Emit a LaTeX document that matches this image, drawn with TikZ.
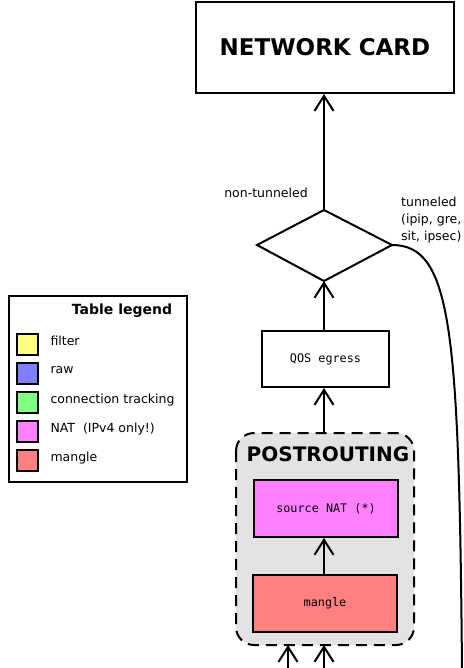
\documentclass[tikz,border=0pt]{standalone}
\usepackage{fontspec}
\setmainfont{DejaVu Sans}
\setsansfont{DejaVu Sans}
\setmonofont{DejaVu Sans Mono}
\usetikzlibrary{arrows.meta,shapes.geometric}
\begin{document}
\begin{tikzpicture}[x=1pt,y=-1pt,
  lw/.style={line width=2pt},
  arr/.style={lw,-{Straight Barb[length=15pt,width=19pt,line width=2pt]}},
  box/.style={draw,lw,inner sep=0pt,anchor=north west},
  monotext/.style={font=\ttfamily\fontsize{11.8}{14}\selectfont},
  sq/.style={draw,lw,minimum width=21pt,minimum height=21pt,inner sep=0pt,anchor=north west},
  legtext/.style={font=\fontsize{12.5}{15}\selectfont,anchor=west}
]
\useasboundingbox (0,0) rectangle (463,668);
% network card
\node[box,minimum width=258pt,minimum height=91pt,font=\bfseries\fontsize{23}{27}\selectfont] (nc) at (195,1) {NETWORK CARD};
% diamond
\draw[lw] (324,210) coordinate (dt) -- (392,245) coordinate (dr) -- (324,281) coordinate (db) -- (257,245) -- cycle;
\node[font=\fontsize{12.5}{15}\selectfont] (nt) at (266,193) {non-tunneled};
\node[font=\fontsize{12.5}{17}\selectfont,align=left,anchor=north west,inner sep=0pt] (tt) at (401,197) {tunneled\\(ipip, gre,\\sit, ipsec)};
% qos
\node[box,minimum width=127pt,minimum height=56pt,monotext] (qos) at (261,330) {QOS egress};
% postrouting
\draw[lw,dashed,dash pattern=on 11pt off 7pt,fill=black!11,rounded corners=18pt] (236,433) coordinate (pt) rectangle (414,645);
\coordinate (ptop) at (324,433);
\coordinate (pbot1) at (288,645);
\coordinate (pbot2) at (324,645);
\node[font=\bfseries\fontsize{20}{24}\selectfont] (ptitle) at (328,454) {POSTROUTING};
\node[box,minimum width=144pt,minimum height=57pt,fill={rgb,255:red,255;green,128;blue,255},monotext] (snat) at (253,479) {source NAT (*)};
\node[box,minimum width=144pt,minimum height=57pt,fill={rgb,255:red,255;green,128;blue,128},monotext] (mang) at (252,574) {mangle};
% arrows
\draw[arr] (dt) -- (dt |- nc.south);
\draw[arr] (db |- qos.north) -- (db);
\draw[arr] (ptop) -- (ptop |- qos.south);
\draw[arr] (ptop |- mang.north) -- (ptop |- snat.south);
\coordinate (b1) at (288,670);
\coordinate (b2) at (324,670);
\draw[arr] (b1) -- (pbot1);
\draw[arr] (b2) -- (pbot2);
\coordinate (cend) at (462,670);
\draw[lw] (dr) .. controls (452,245) and (459,330) .. (cend);
% legend
\node[box,minimum width=178pt,minimum height=186pt] (leg) at (8,295) {};
\node[font=\bfseries\fontsize{14}{16}\selectfont] (legt) at (122,311) {Table legend};
\node[sq,fill={rgb,255:red,255;green,255;blue,128}] (s1) at (16,333) {};
\node[sq,fill={rgb,255:red,128;green,128;blue,255}] (s2) at (16,362) {};
\node[sq,fill={rgb,255:red,128;green,255;blue,128}] (s3) at (16,391) {};
\node[sq,fill={rgb,255:red,255;green,128;blue,255}] (s4) at (16,420) {};
\node[sq,fill={rgb,255:red,255;green,128;blue,128}] (s5) at (16,449) {};
\node[legtext] (l1) at (47,341) {filter};
\node[legtext] (l2) at (47,370) {raw};
\node[legtext] (l3) at (47,400) {connection tracking};
\node[legtext] (l4) at (47,429) {NAT\ \ (IPv4 only!)};
\node[legtext] (l5) at (47,458) {mangle};
\end{tikzpicture}
\end{document}
